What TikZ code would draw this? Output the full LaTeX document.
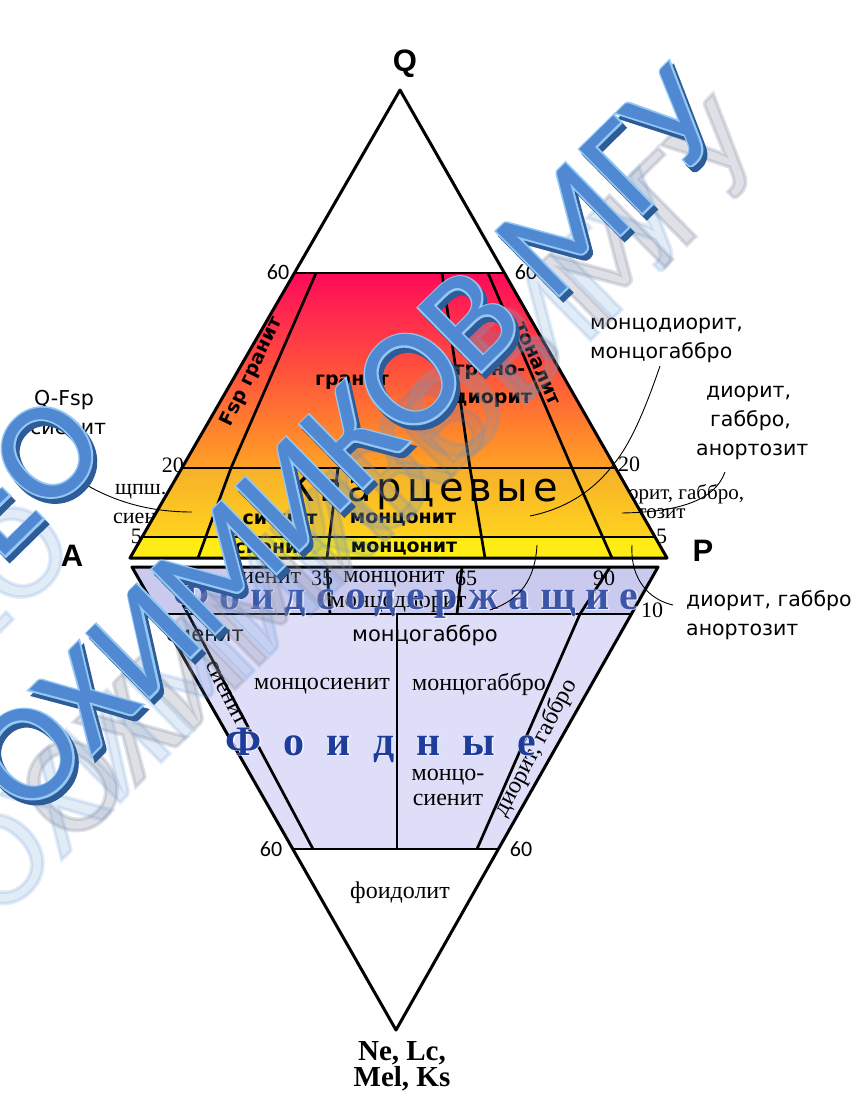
\documentclass[tikz,border=0pt]{standalone}
\usepackage{fontspec}
\setmainfont{Liberation Serif}
\newfontfamily\csfont{DejaVu Sans}
\newfontfamily\kvfont[LetterSpace=12]{DejaVu Sans}
\newfontfamily\arfont{Liberation Sans}
\newfontfamily\calfont{Carlito}
\newfontfamily\wmfont[FakeBold=2.5]{Carlito}
\newfontfamily\bigblue[LetterSpace=24]{Liberation Serif}
\newfontfamily\bigbluehalo[LetterSpace=24,FakeBold=3]{Liberation Serif}
\newfontfamily\halofont[FakeBold=3]{Liberation Serif}
\usetikzlibrary{calc}
\definecolor{lav}{HTML}{DEDEF8}
\definecolor{lavd}{HTML}{CACAEF}
\definecolor{wmblue}{HTML}{5089D2}
\definecolor{wmlight}{HTML}{94C8F4}
\definecolor{wmdark}{HTML}{2E5C99}
\definecolor{wmshadow}{HTML}{8A93A8}
\definecolor{fblue}{HTML}{1E3C9C}
\definecolor{gtop}{HTML}{FF0A5A}
\definecolor{gmid}{HTML}{FF523C}
\definecolor{gbot}{HTML}{FFA224}
\definecolor{ktop}{HTML}{F7B02A}
\definecolor{kbot}{HTML}{FFD21E}
\definecolor{ylw}{HTML}{FFEC14}
\tikzset{
  edge/.style={line width=3pt, line join=round},
  div/.style={line width=2.7pt},
  ptr/.style={line width=0.9pt},
  cs/.style={font=\csfont\fontsize{20.5}{29}\selectfont, inner sep=0pt},
  csb/.style={font=\csfont\bfseries\fontsize{19}{21}\selectfont, inner sep=0pt},
  tr/.style={font=\fontsize{24}{25}\selectfont, inner sep=0pt},
  num/.style={font=\fontsize{22}{24}\selectfont, inner sep=0pt},
  num60/.style={font=\calfont\fontsize{22}{24}\selectfont, inner sep=0pt},
  wm/.style={rotate=44.5, inner sep=0pt, font=\wmfont\fontsize{140}{140}\selectfont},
}
\newcommand{\lsp}{\hspace{22pt}}
\begin{document}
\begin{tikzpicture}[x=1pt,y=-1pt]
\useasboundingbox (0,0) rectangle (866,1095);
\fill[white] (0,0) rectangle (866,1095);
% ---------- upper triangle ----------
\coordinate (Q) at (400,90);
\coordinate (A) at (130,558);
\coordinate (P) at (667,558);
\coordinate (L60) at ($(Q)!0.391!(A)$);
\coordinate (R60) at ($(Q)!0.391!(P)$);
\coordinate (L20) at ($(Q)!0.8077!(A)$);
\coordinate (R20) at ($(Q)!0.8077!(P)$);
\coordinate (L5) at ($(Q)!0.955!(A)$);
\coordinate (R5) at ($(Q)!0.955!(P)$);
% partially hidden side texts
\node[num, anchor=east] (t20l) at (184,465) {20};
\node[num, anchor=west] (t20r) at (618,464) {20};
\node[font=\fontsize{22}{24}\selectfont, anchor=west, inner sep=0pt] (hid1) at (115,492) {щпш.};
\node[font=\fontsize{22}{24}\selectfont, anchor=west, inner sep=0pt] (hid2) at (113,518) {сиенит};
\node[font=\fontsize{21}{23}\selectfont, anchor=west, inner sep=0pt] (hid3) at (606,494) {диорит, габбро,};
\node[font=\fontsize{21}{23}\selectfont, anchor=west, inner sep=0pt] (hid4) at (596,516) {анортозит};
\node[num, anchor=east] (t5l) at (142,536) {5};
\node[num, anchor=west] (t5r) at (656,536) {5};
% fills
\shade[top color=gtop, bottom color=gbot, middle color=gmid]
  (L60) -- (R60) -- (R20) -- (L20) -- cycle;
\shade[top color=ktop, bottom color=kbot]
  (L20) -- (R20) -- (R5) -- (L5) -- cycle;
\fill[ylw] (L5) -- (R5) -- (P) -- (A) -- cycle;
% dividers upper
\draw[div] (316,273) -- (231,468) -- (198,558);
\draw[div] (442,273) -- (470,468) -- (485,558);
\draw[div] (488,273) -- (572,468) -- (612,558);
\draw[div] (338,468) -- (327,558);
\draw[div] (L60) -- (R60);
\draw[div] (L20) -- (R20);
\draw[div] (L5) -- (R5);
\draw[edge] (A) -- (Q) -- (P) -- cycle;
% ---------- lower triangle ----------
\coordinate (F) at (396,1030);
\coordinate (A2) at (132,567);
\coordinate (P2) at (658,567);
\coordinate (M10) at ($(A2)!0.1015!(F)$);
\coordinate (N10) at ($(P2)!0.1015!(F)$);
\coordinate (M60) at ($(A2)!0.609!(F)$);
\coordinate (N60) at ($(P2)!0.609!(F)$);
\fill[lavd] (A2) -- (P2) -- (N10) -- (M10) -- cycle;
\fill[lav] (M10) -- (N10) -- (N60) -- (M60) -- cycle;
\draw[div] (163,567) -- (313,849);
\draw[div] (327,567) -- (330,614);
\draw[div] (462,567) -- (457,614);
\draw[div] (610,567) -- (580,614) -- (477,849);
\draw[div] (397,614) -- (397,849);
\draw[div] (M10) -- (N10);
\draw[div] (M60) -- (N60);
\draw[edge] (A2) -- (P2) -- (F) -- cycle;
% ---------- labels ----------
\node[font=\arfont\bfseries\fontsize{31}{31}\selectfont, inner sep=0pt] (lQ) at (405,64) {Q};
\node[font=\arfont\bfseries\fontsize{31}{31}\selectfont, inner sep=0pt] (lA) at (72,556) {A};
\node[font=\arfont\bfseries\fontsize{31}{31}\selectfont, inner sep=0pt] (lP) at (703,551) {P};
\node[num60] (n60a) at (278,272) {60};
\node[num60] (n60b) at (526,272) {60};
\node[num60] (n60c) at (271,849) {60};
\node[num60] (n60d) at (521,849) {60};
% upper fields
\node[csb, rotate=64] (fsp) at (252,372) {Fsp гранит};
\node[csb] (gran) at (352,382) {гранит};
\node[csb] (gd1) at (490,372) {грано-};
\node[csb] (gd2) at (492,400) {диорит};
\node[csb, rotate=-66] (ton) at (537,364) {тоналит};
\node[font=\kvfont\fontsize{40}{40}\selectfont, inner sep=0pt] (kv) at (422,491) {Кварцевые};
\node[csb] (s1) at (280,519) {сиенит};
\node[csb] (m1) at (403,519) {монцонит};
\node[csb] (s2) at (272,548) {сиенит};
\node[csb] (m2) at (404,548) {монцонит};
% foid-bearing band
\node[num] (b10) at (190,578) {10};
\node[tr] (bs) at (266,578) {сиенит};
\node[num] (b35) at (322,578) {35};
\node[tr] (bm) at (394,579) {монцонит};
\node[num] (b65) at (466,578) {65};
\node[num] (b90) at (604,578) {90};
\node[num] (r10) at (652,610) {10};
\node[tr] (bmd) at (398,604) {монцодиорит};
\node[font=\bigbluehalo\bfseries\fontsize{42}{42}\selectfont, text=white, inner sep=0pt, opacity=0.6] (fsh) at (406,600) {Фоидсодержащие};
\node[font=\bigblue\bfseries\fontsize{42}{42}\selectfont, text=fblue, inner sep=0pt, opacity=0.85] (fs) at (406,600) {Фоидсодержащие};
% foid field
\node[cs, font=\csfont\fontsize{21}{23}\selectfont] (fs1) at (205,636) {сиенит};
\node[cs, font=\csfont\fontsize{21}{23}\selectfont] (fmg) at (425,636) {монцогаббро};
\node[tr] (fms) at (322,686) {монцосиенит};
\node[tr] (fmg2) at (479,684) {монцогаббро};
\node[tr, rotate=-63] (fsv) at (226,693) {сиенит};
\node[tr, rotate=62] (fdg) at (536,748) {диорит, габбро};
\node[font=\halofont\bfseries\fontsize{42}{42}\selectfont, text=white, inner sep=0pt, opacity=0.6] (fdh) at (381,745) {Ф\lsp о\lsp и\lsp д\lsp н\lsp ы\lsp е};
\node[font=\bfseries\fontsize{42}{42}\selectfont, text=fblue, inner sep=0pt] (fd) at (381,745) {Ф\lsp о\lsp и\lsp д\lsp н\lsp ы\lsp е};
\node[tr, align=center] (fmc) at (448,787) {монцо-\\сиенит};
\node[tr] (fol) at (400,893) {фоидолит};
\node[font=\bfseries\fontsize{29}{26}\selectfont, align=center, inner sep=0pt] (nel) at (402,1066) {Ne, Lc,\\Mel, Ks};
% outside labels
\node[cs, align=left, anchor=north west] (qfsp) at (30,390) {\hspace{4pt}Q-Fsp\\сиенит};
\node[cs, align=left, anchor=north west] (mdg) at (590,318) {монцодиорит,\\монцогаббро};
\node[cs, align=left, anchor=north west] (dga) at (696,386) {\hspace{10pt}диорит,\\\hspace{14pt}габбро,\\анортозит};
\node[cs, align=left, anchor=north west] (dga2) at (686,590) {диорит, габбро\\анортозит};
% pointer curves
\coordinate (e1) at (192,512);
\coordinate (e2) at (530,516);
\coordinate (e3) at (622,513);
\coordinate (e4) at (632,545);
\coordinate (e5) at (537,545);
\coordinate (e5b) at (490,610);
\draw[ptr] (83,483) .. controls (115,502) and (150,512) .. (e1);
\draw[ptr] (660,366) .. controls (645,410) and (630,445) .. (613,465) .. controls (590,495) and (560,510) .. (e2);
\draw[ptr] (725,472) .. controls (715,500) and (680,512) .. (e3);
\draw[ptr] (673,605) .. controls (650,600) and (630,580) .. (e4);
\draw[ptr] (e5) .. controls (535,580) and (520,600) .. (e5b);
% ---------- watermark ----------
\node[wm, text=wmblue, opacity=0.16] (wmr) at (318,545) {ОХИМИКОВ МГУ};
\node[wm, text=wmshadow, opacity=0.28] (wms) at (392,472) {ОХИМИКОВ МГУ};
\node[wm, text=wmdark] (wmd) at (352,445) {ОХИМИКОВ МГУ};
\node[wm, text=wmlight] (wml) at (348,440) {ОХИМИКОВ МГУ};
\node[wm, text=wmblue, font=\calfont\fontsize{140}{140}\selectfont] (wm) at (348,440) {ОХИМИКОВ МГУ};
% upper fragment
\node[wm, text=wmblue, opacity=0.16, anchor=east] (wur) at (50,520) {ГЕО};
\node[wm, text=wmdark, anchor=east] (wud) at (84,425) {ГЕО};
\node[wm, text=wmlight, anchor=east] (wul) at (80,420) {ГЕО};
\node[wm, text=wmblue, font=\calfont\fontsize{140}{140}\selectfont, anchor=east] (wu) at (80,420) {ГЕО};
\end{tikzpicture}
\end{document}
